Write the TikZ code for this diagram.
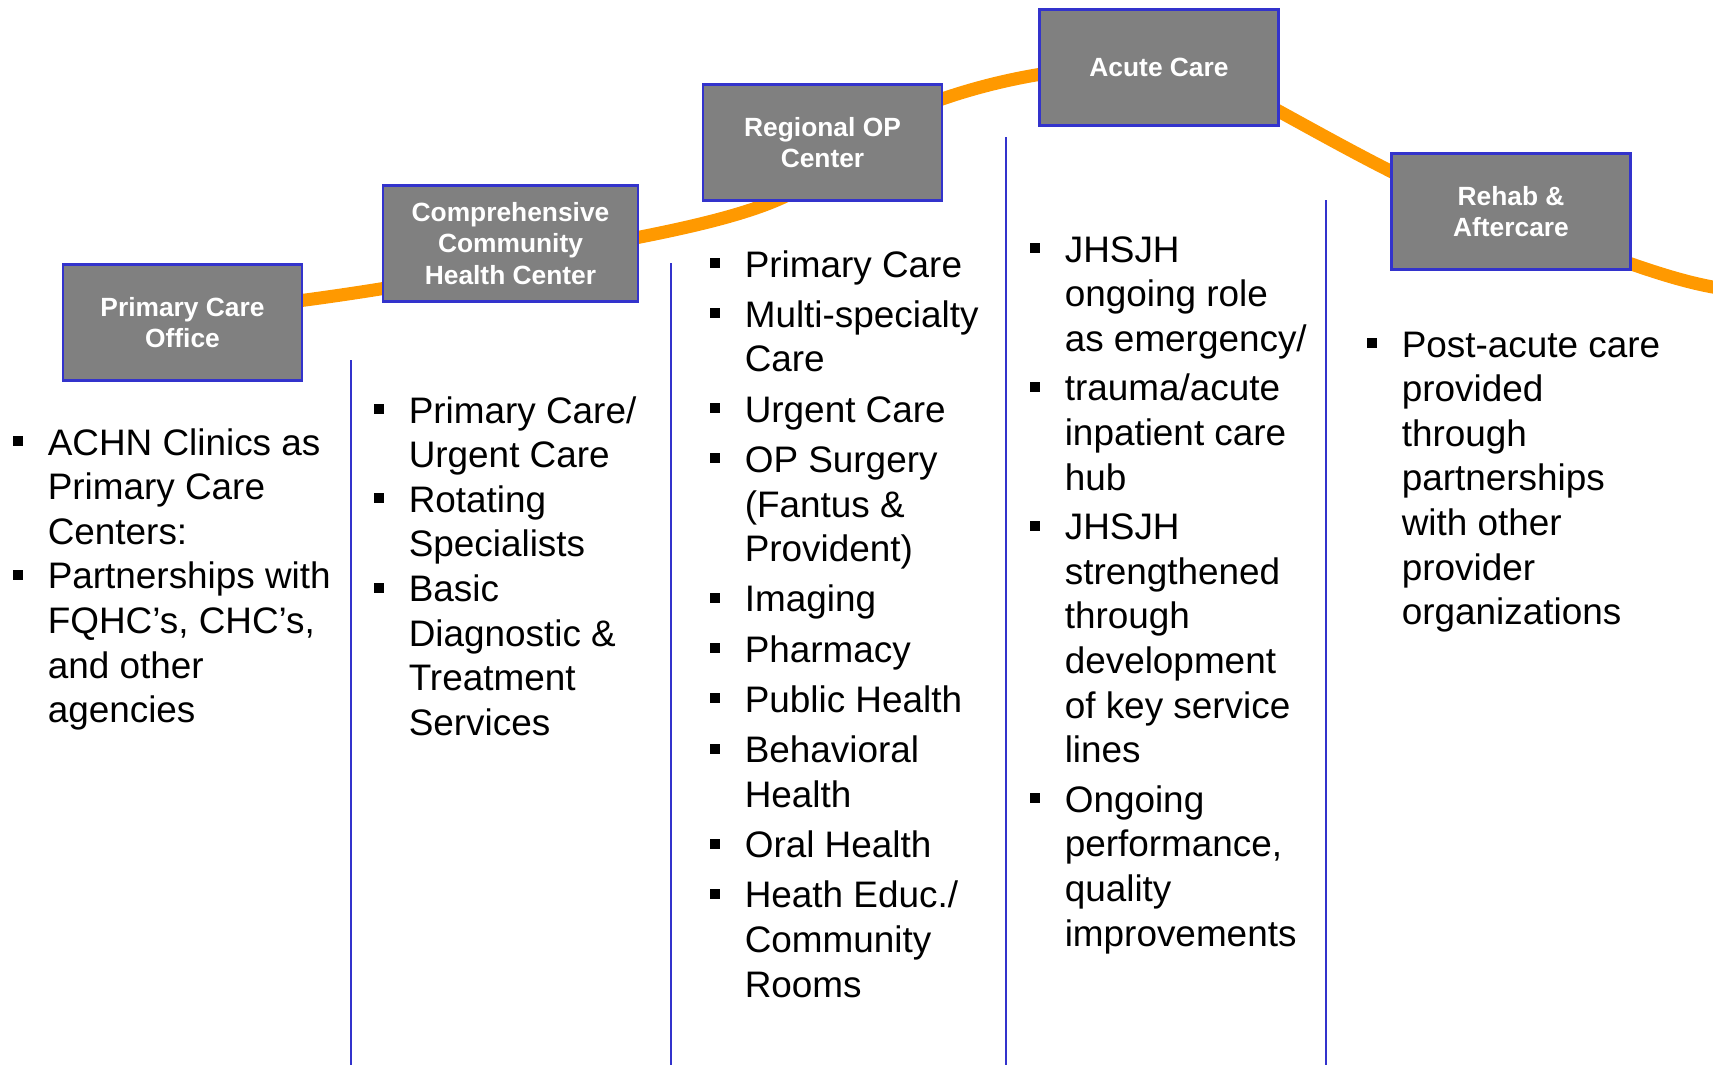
\documentclass[tikz,border=0pt]{standalone}
\usepackage{fontspec}
\setmainfont{Liberation Sans}
\usetikzlibrary{positioning}

\definecolor{stagegray}{HTML}{808080}
\definecolor{stageblue}{HTML}{3333CC}
\definecolor{trendorange}{HTML}{FF9900}

\newcommand{\bsq}{\rule[5.1pt]{5.7pt}{5.7pt}}

\tikzset{
  stage/.style={draw=stageblue, line width=1.4pt, fill=stagegray, text=white,
    font=\bfseries\fontsize{15}{18}\selectfont, align=center,
    minimum width=4.78cm, minimum height=2.32cm, inner sep=0pt},
  items/.style={anchor=base west, inner sep=0pt, font=\fontsize{21}{25.4}\selectfont},
  divider/.style={draw=stageblue, line width=1.1pt},
  trend/.style={draw=trendorange, line width=7.4pt}
}

\begin{document}
\begin{tikzpicture}[x=0.02cm, y=-0.02cm]
  \useasboundingbox (0,0) rectangle (1713,1065);

  % orange trend behind the boxes (joins hidden inside the boxes)
  \coordinate (t0) at (182,312);
  \coordinate (t1) at (510,264);
  \coordinate (t2) at (822,170);
  \coordinate (t3) at (1235,88);
  \coordinate (t4) at (1511,222);
  \coordinate (t5) at (1725,289);
  \draw[trend] (t0) .. controls (260,310) and (450,280) .. (t1)
    .. controls (600,240) and (781,222.5) .. (t2)
    .. controls (880,95) and (1125,33) .. (t3)
    .. controls (1300,120.5) and (1420,195) .. (t4)
    .. controls (1584,244) and (1660,280) .. (t5);

  % stages
  \node (pco) [stage] at (182.5,322.5) {Primary Care\\Office};
  \node (cchc) [stage, minimum width=5.1cm] at (510.5,243.5) {Comprehensive\\Community\\Health Center};
  \node (rop) [stage] at (822.5,142.5) {Regional OP\\Center};
  \node (acute) [stage] at (1159,67.5) {Acute Care};
  \node (rehab) [stage] at (1511,211.5) {Rehab \&\\Aftercare};

  % column dividers
  \draw[divider] (351,360) -- (351,1065);
  \draw[divider] (671,263) -- (671,1065);
  \draw[divider] (1006,137) -- (1006,1065);
  \draw[divider] (1326,200) -- (1326,1065);

  % lists
  \node (pcotxt) [items] at (13,455) {\begin{tabular}[t]{@{}p{19.6pt}@{}l@{}}
    \bsq & ACHN Clinics as\\
         & Primary Care\\
         & Centers:\\
    \bsq & Partnerships with\\
         & FQHC’s, CHC’s,\\
         & and other\\
         & agencies
  \end{tabular}};
  \node (cchctxt) [items] at (374,423) {\begin{tabular}[t]{@{}p{19.6pt}@{}l@{}}
    \bsq & Primary Care/\\
         & Urgent Care\\
    \bsq & Rotating\\
         & Specialists\\
    \bsq & Basic\\
         & Diagnostic \&\\
         & Treatment\\
         & Services
  \end{tabular}};
  \node (roptxt) [items] at (710,277) {\begin{tabular}[t]{@{}p{19.6pt}@{}l@{}}
    \bsq & Primary Care\\[3.2pt]
    \bsq & Multi-specialty\\
         & Care\\[3.2pt]
    \bsq & Urgent Care\\[3.2pt]
    \bsq & OP Surgery\\
         & (Fantus \&\\
         & Provident)\\[3.2pt]
    \bsq & Imaging\\[3.2pt]
    \bsq & Pharmacy\\[3.2pt]
    \bsq & Public Health\\[3.2pt]
    \bsq & Behavioral\\
         & Health\\[3.2pt]
    \bsq & Oral Health\\[3.2pt]
    \bsq & Heath Educ./\\
         & Community\\
         & Rooms
  \end{tabular}};
  \node (acutetxt) [items] at (1030,262) {\begin{tabular}[t]{@{}p{19.6pt}@{}l@{}}
    \bsq & JHSJH\\
         & ongoing role\\
         & as emergency/\\[2.8pt]
    \bsq & trauma/acute\\
         & inpatient care\\
         & hub\\[2.8pt]
    \bsq & JHSJH\\
         & strengthened\\
         & through\\
         & development\\
         & of key service\\
         & lines\\[2.8pt]
    \bsq & Ongoing\\
         & performance,\\
         & quality\\
         & improvements
  \end{tabular}};
  \node (rehabtxt) [items] at (1367,357) {\begin{tabular}[t]{@{}p{19.6pt}@{}l@{}}
    \bsq & Post-acute care\\
         & provided\\
         & through\\
         & partnerships\\
         & with other\\
         & provider\\
         & organizations
  \end{tabular}};
\end{tikzpicture}
\end{document}
